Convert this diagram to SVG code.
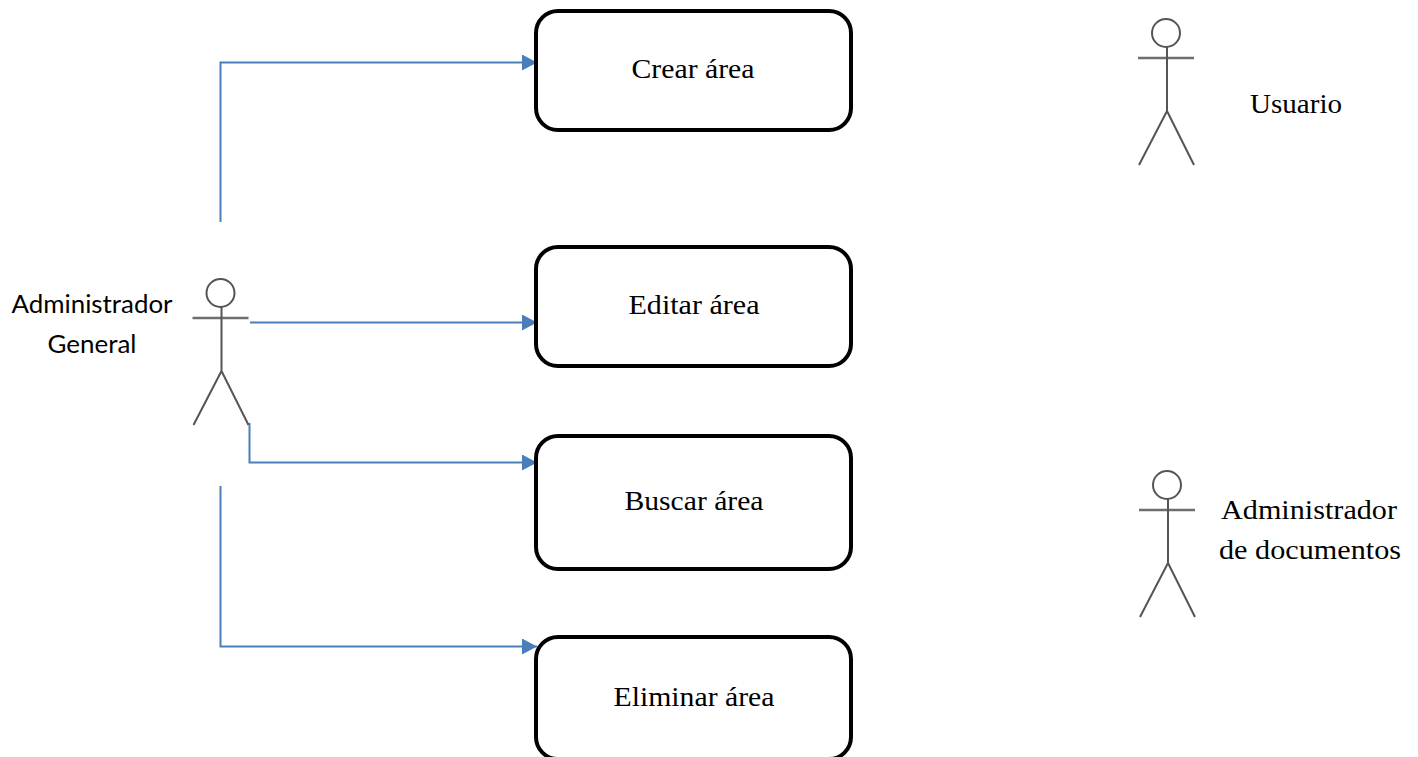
<svg xmlns="http://www.w3.org/2000/svg" width="1418" height="757" viewBox="0 0 1418 757">
<style>
.box{fill:#fff;stroke:#000;stroke-width:4}
.conn{fill:none;stroke:#4a7ebb;stroke-width:2}
.act{fill:none;stroke:#555;stroke-width:2}
.bar{fill:none;stroke:#6e6e6e;stroke-width:2.5}
.s{font-family:"Liberation Serif",serif;font-size:27px;fill:#000;text-anchor:middle}
.c{font-family:"Lato","Liberation Sans",sans-serif;font-size:25px;fill:#000;text-anchor:middle}
</style>
<defs>
<marker id="arr" markerUnits="userSpaceOnUse" markerWidth="16" markerHeight="16" refX="15" refY="8" orient="auto"><path d="M0,0 L15,8 L0,16 Z" fill="#4a7ebb"/></marker>
<g id="actor">
<circle class="act" cx="0" cy="0" r="14"/>
<path class="bar" d="M-28,25H28"/>
<path class="act" d="M1,14V78M1,78L-27,132M1,78L28,132"/>
</g>
</defs>
<rect width="1418" height="757" fill="#fff"/>
<g id="connectors">
<path class="conn" d="M220.500,222V62.500H537" marker-end="url(#arr)"/>
<path class="conn" d="M250,322.500H537" marker-end="url(#arr)"/>
<path class="conn" d="M249.500,423V462.500H537" marker-end="url(#arr)"/>
<path class="conn" d="M220.500,486V646.500H537" marker-end="url(#arr)"/>
</g>
<g id="node-crear"><rect class="box" x="536" y="11" width="315" height="119" rx="22"/><text class="s" x="693" y="78" textLength="123" lengthAdjust="spacingAndGlyphs">Crear área</text></g>
<g id="node-editar"><rect class="box" x="536" y="247" width="315" height="119" rx="22"/><text class="s" x="694" y="314" textLength="131" lengthAdjust="spacingAndGlyphs">Editar área</text></g>
<g id="node-buscar"><rect class="box" x="536" y="436" width="315" height="133" rx="22"/><text class="s" x="694" y="510" textLength="139" lengthAdjust="spacingAndGlyphs">Buscar área</text></g>
<g id="node-eliminar"><rect class="box" x="536" y="637" width="315" height="122" rx="22"/><text class="s" x="694" y="706" textLength="161" lengthAdjust="spacingAndGlyphs">Eliminar área</text></g>
<g id="actor-general"><use href="#actor" x="220.500" y="293"/><text class="c" x="92" y="313" textLength="161" lengthAdjust="spacingAndGlyphs">Administrador</text><text class="c" x="92" y="353" textLength="89" lengthAdjust="spacingAndGlyphs">General</text></g>
<g id="actor-usuario"><use href="#actor" x="1166" y="33"/><text class="s" x="1296" y="113" textLength="92" lengthAdjust="spacingAndGlyphs">Usuario</text></g>
<g id="actor-documentos"><use href="#actor" x="1167" y="485"/><text class="s" x="1309" y="519" textLength="176" lengthAdjust="spacingAndGlyphs">Administrador</text><text class="s" x="1310" y="559" textLength="182" lengthAdjust="spacingAndGlyphs">de documentos</text></g>
</svg>
